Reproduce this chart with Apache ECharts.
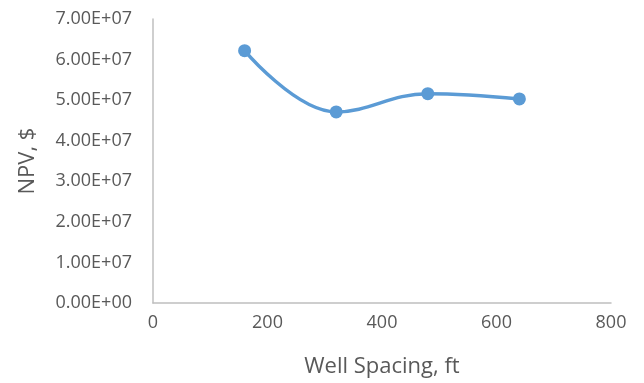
<!DOCTYPE html>
<html>
<head>
<meta charset="utf-8">
<script src="https://cdn.jsdelivr.net/npm/echarts@6/dist/echarts.min.js"></script>
<style>
  html, body { margin: 0; padding: 0; background: #ffffff; }
  #chart { width: 644px; height: 383px; }
</style>
</head>
<body>
<div id="chart"></div>
<script>
// Well spacing (ft) and the resulting net present value ($)
const wellSpacing = [160, 320, 480, 640];
const npvValues = [6.22e7, 4.71e7, 5.16e7, 5.03e7];

const xTitle = 'Well Spacing, ft';
const yTitle = 'NPV, $';

const textColor = '#595959';
const axisColor = '#bfbfbf';
const seriesColor = '#5b9bd5';
const fontFamily = '"Open Sans", "Noto Sans", sans-serif';

// Excel-style scientific notation, e.g. 6.00E+07
function sci(v) {
  if (v === 0) return '0.00E+00';
  const exp = Math.floor(Math.log10(Math.abs(v)));
  const mant = v / Math.pow(10, exp);
  const e = String(Math.abs(exp)).padStart(2, '0');
  return mant.toFixed(2) + 'E' + (exp < 0 ? '-' : '+') + e;
}

const chart = echarts.init(document.getElementById('chart'), null, { renderer: 'canvas' });
chart.setOption({
  animation: false,
  backgroundColor: '#ffffff',
  grid: { left: 153, right: 33, top: 19, bottom: 78, containLabel: false },
  xAxis: {
    type: 'value',
    min: 0, max: 800, interval: 200,
    name: xTitle,
    nameLocation: 'middle',
    nameGap: 53,
    nameTextStyle: { color: textColor, fontSize: 22, fontFamily },
    axisLine: { show: true, lineStyle: { color: axisColor, width: 1.5 } },
    axisTick: { show: false },
    splitLine: { show: false },
    axisLabel: { color: textColor, fontSize: 18, fontFamily, margin: 11 }
  },
  yAxis: {
    type: 'value',
    min: 0, max: 7e7, interval: 1e7,
    name: yTitle,
    nameLocation: 'middle',
    nameGap: 114,
    nameTextStyle: { color: textColor, fontSize: 22, fontFamily },
    axisLine: { show: true, lineStyle: { color: axisColor, width: 1.5 } },
    axisTick: { show: false },
    splitLine: { show: false },
    axisLabel: { color: textColor, fontSize: 18, fontFamily, margin: 21, formatter: sci }
  },
  series: [{
    type: 'line',
    data: wellSpacing.map((x, i) => [x, npvValues[i]]),
    smooth: 0.4,
    symbol: 'circle',
    symbolSize: 13,
    lineStyle: { color: seriesColor, width: 3.5 },
    itemStyle: { color: seriesColor }
  }]
});
</script>
</body>
</html>
